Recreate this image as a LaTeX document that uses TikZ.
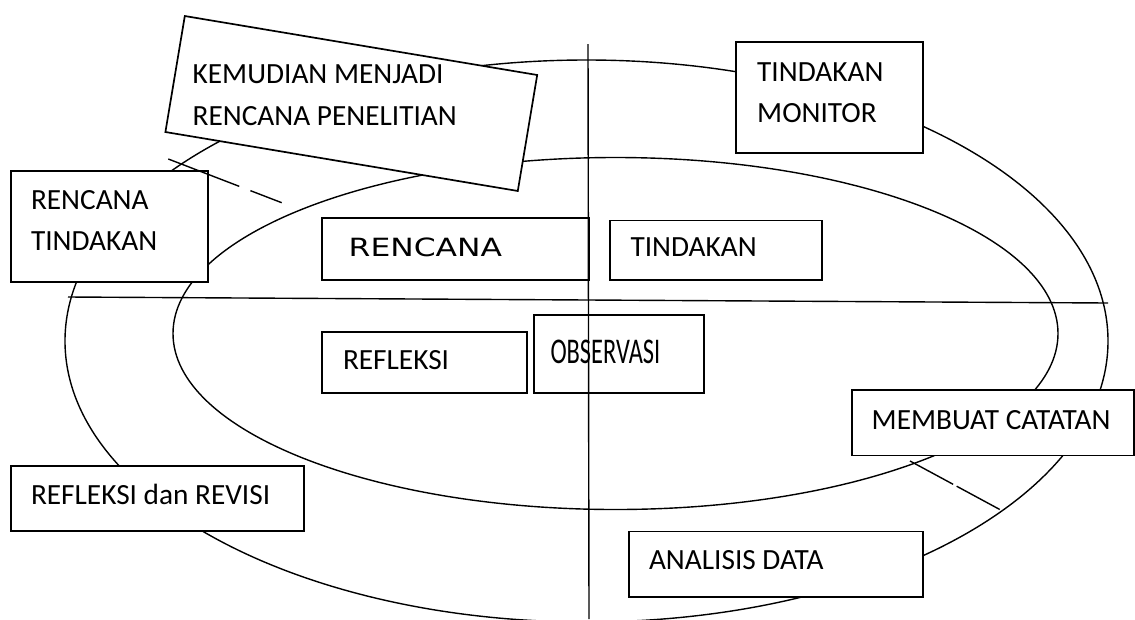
\documentclass[tikz,border=0pt]{standalone}
\usepackage{fontspec}
\usepackage{graphicx}
\setmainfont{Carlito}
\newfontfamily\widefont{DejaVu Sans}
\begin{document}
\begin{tikzpicture}[x=1pt,y=-1pt,
  box/.style={draw, fill=white, line width=1.7pt, inner sep=0pt, rectangle},
  lbl/.style={anchor=base west, inner sep=0pt, font=\fontsize{29.3}{35}\selectfont},
  curve/.style={line width=1.4pt},
  dashline/.style={line width=1.4pt}]
\useasboundingbox (0,0) rectangle (1135,619);
\fill[white] (0,0) rectangle (1135,619);
% ellipses
\draw[curve] (586.5,341) ellipse [x radius=521.5pt, y radius=281pt];
\draw[curve] (615.5,333.5) ellipse [x radius=442.5pt, y radius=176pt];
% boxes
\node[box, minimum width=357.3pt, minimum height=117.6pt, rotate=-9.5] (kr) at (351.3,103.5) {};
\node[box, minimum width=196.7pt, minimum height=110.7pt] (rt) at (109.35,226.35) {};
\node[box, minimum width=186.7pt, minimum height=111pt] (tm) at (829.35,97.8) {};
\node[box, minimum width=266.7pt, minimum height=61.7pt] (rc) at (455.35,249.15) {};
\node[box, minimum width=211.4pt, minimum height=59.5pt] (td) at (716,250.25) {};
\node[box, minimum width=204.4pt, minimum height=61pt] (rf) at (424.5,362.8) {};
\node[box, minimum width=169.7pt, minimum height=78.3pt] (ob) at (619.15,354.15) {};
\node[box, minimum width=282pt, minimum height=65.5pt] (mc) at (993,422.75) {};
\node[box, minimum width=293.3pt, minimum height=65.3pt] (rr) at (157.65,498.35) {};
\node[box, minimum width=293.7pt, minimum height=65.5pt] (ad) at (775.85,564.25) {};
% texts
\node[lbl] (kr1) at (192.5,83.3) {KEMUDIAN MENJADI};
\node[lbl] (kr2) at (192.5,125.3) {RENCANA PENELITIAN};
\node[lbl] (rt1) at (30.8,209) {RENCANA};
\node[lbl] (rt2) at (30.8,250.7) {TINDAKAN};
\node[lbl] (tm1) at (757,81) {TINDAKAN};
\node[lbl] (tm2) at (757,122.3) {MONITOR};
\node[lbl, font=\widefont\fontsize{25.1}{30}\selectfont] (rct) at (348.5,256) {\scalebox{1.25}[1]{RENCANA}};
\node[lbl] (tdt) at (630.3,256.7) {TINDAKAN};
\node[lbl] (rft) at (342.8,369.3) {REFLEKSI};
\node[lbl, font=\fontsize{36.2}{40}\selectfont] (obt) at (550.3,363.3) {\scalebox{0.675}[1]{OBSERVASI}};
\node[lbl] (mct) at (871.5,429) {MEMBUAT CATATAN};
\node[lbl] (rrt) at (30.8,504.3) {REFLEKSI dan REVISI};
\node[lbl] (adt) at (648.8,569.3) {ANALISIS DATA};
% axes
\coordinate (vtop) at (588,44);
\coordinate (vbot) at (589,619);
\coordinate (hl) at (68,297);
\coordinate (hr) at (1108,303);
\draw[curve] (vtop) -- (vbot);
\draw[curve] (hl) -- (hr);
% dashed marks
\coordinate (d1a) at (168.3,159);
\coordinate (d1b) at (281.7,202.7);
\coordinate (d2a) at (910,461);
\coordinate (d2b) at (1000.7,510);
\draw[dashline, dash pattern=on 76pt off 12pt] (d1a) -- (d1b);
\draw[dashline, dash pattern=on 49pt off 4pt] (d2a) -- (d2b);
\end{tikzpicture}
\end{document}
